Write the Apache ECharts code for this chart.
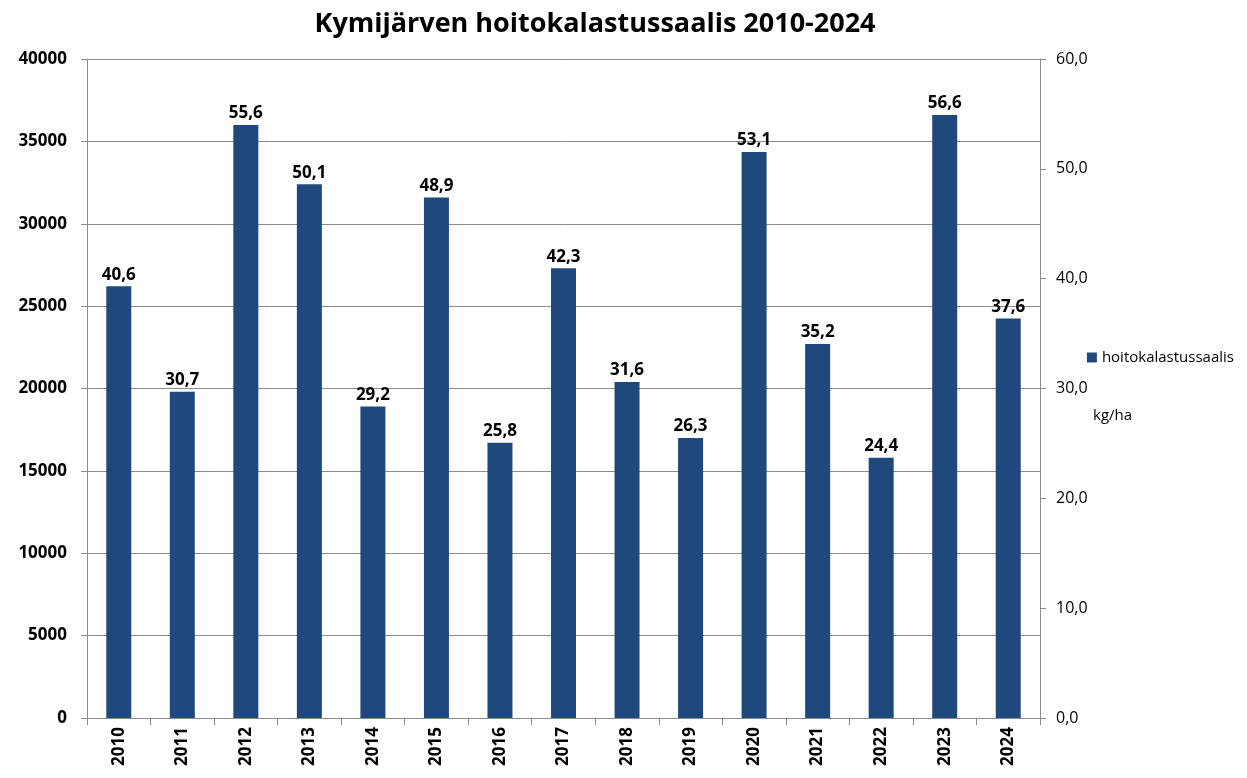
<!DOCTYPE html>
<html><head><meta charset="utf-8">
<script src="https://cdn.jsdelivr.net/npm/echarts@6/dist/echarts.min.js"></script>
<style>html,body{margin:0;padding:0;background:#fff}#c{width:1247px;height:778px}</style>
</head><body><div id="c"></div>
<script>
const years = ['2010','2011','2012','2013','2014','2015','2016','2017','2018','2019','2020','2021','2022','2023','2024'];
const catchKg = [26200,19800,36000,32400,18900,31600,16700,27300,20400,17000,34350,22700,15800,36600,24250];
const kgPerHa = ['40,6','30,7','55,6','50,1','29,2','48,9','25,8','42,3','31,6','26,3','53,1','35,2','24,4','56,6','37,6'];
const seriesName = 'hoitokalastussaalis';
const titleText = 'Kymijärven hoitokalastussaalis 2010-2024';
const unitText = 'kg/ha';

const chart = echarts.init(document.getElementById('c'));
const axisGray = '#8c8c8c';
const font = '"Open Sans", "DejaVu Sans", sans-serif';
chart.setOption({
  animation: false,
  title: { text: titleText, left: 590, top: 6, textAlign: 'center',
    textStyle: { fontFamily: font, fontSize: 27, fontWeight: 'bold', color: '#000' } },
  legend: { right: 8, top: 345, itemWidth: 10, itemHeight: 10, itemGap: 0, icon: 'rect',
    textStyle: { fontFamily: font, fontSize: 15, color: '#000' }, data: [seriesName] },
  graphic: [{ type: 'text', left: 1093, top: 408, style: { text: unitText, font: '15px ' + font, fill: '#000' } }],
  grid: { left: 87, right: 207, top: 59, bottom: 60 },
  xAxis: { type: 'category', data: years,
    axisLine: { lineStyle: { color: axisGray } },
    axisTick: { show: true, length: 7, lineStyle: { color: axisGray } },
    axisLabel: { rotate: 90, fontFamily: font, fontWeight: 'bold', fontSize: 17, color: '#000', margin: 9 } },
  yAxis: [
    { type: 'value', min: 0, max: 40000, interval: 5000, position: 'left',
      axisLine: { show: true, lineStyle: { color: axisGray } },
      axisTick: { show: true, length: 6, lineStyle: { color: axisGray } },
      splitLine: { lineStyle: { color: axisGray } },
      axisLabel: { fontFamily: font, fontWeight: 'bold', fontSize: 17, color: '#000', margin: 20,
        formatter: v => String(v) } },
    { type: 'value', min: 0, max: 60, interval: 10, position: 'right',
      axisLine: { show: true, lineStyle: { color: axisGray } },
      axisTick: { show: true, length: 6, lineStyle: { color: axisGray } },
      splitLine: { show: false },
      axisLabel: { fontFamily: font, fontSize: 16, color: '#000', margin: 16,
        formatter: v => v.toFixed(1).replace('.', ',') } }
  ],
  series: [{
    name: seriesName, type: 'bar', yAxisIndex: 0, data: catchKg, barWidth: 25,
    itemStyle: { color: '#1f497d' },
    label: { show: true, position: 'top', distance: 3, fontFamily: font, fontWeight: 'bold', fontSize: 17, color: '#000',
      formatter: p => kgPerHa[p.dataIndex] }
  }]
});
</script></body></html>
